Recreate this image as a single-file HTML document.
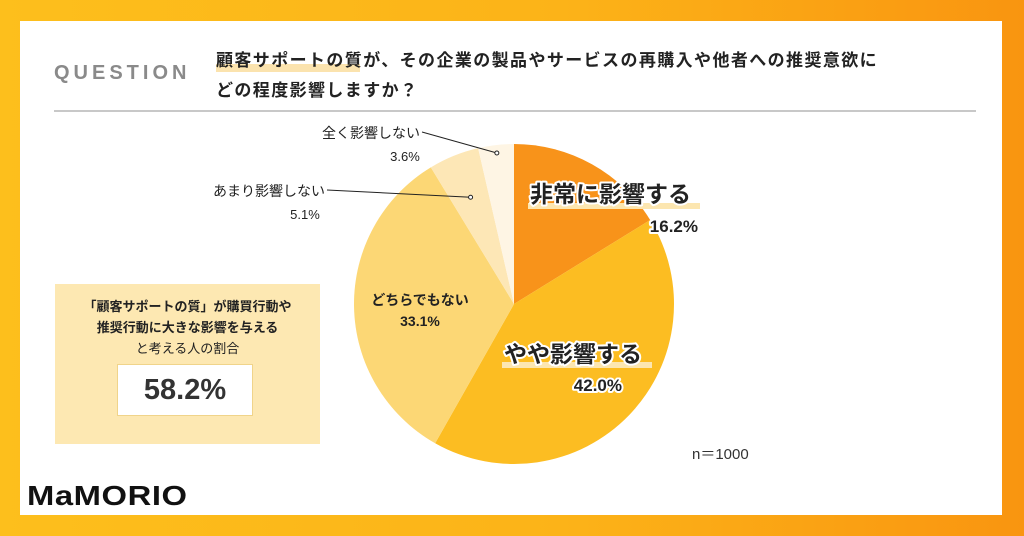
<!DOCTYPE html>
<html><head><meta charset="utf-8">
<style>
body{margin:0;width:1024px;height:536px;overflow:hidden;font-family:"Liberation Sans","Noto Sans CJK JP",sans-serif;}
#bg{position:absolute;left:0;top:0;width:1024px;height:536px;background:linear-gradient(90deg,#FDBF1C 0%,#FCB318 55%,#F99510 100%);}
#card{position:absolute;left:20px;top:21px;width:982px;height:494px;background:#fff;}
.abs{position:absolute;}
</style></head><body>
<div id="bg"></div>
<div id="card"></div>
<div class="abs" style="left:54px;top:62px;font-size:20px;letter-spacing:4px;color:#8a8a8a;font-weight:bold;">QUESTION</div>
<div class="abs" style="left:216px;top:64px;width:144px;height:8px;background:#FBE3AE;"></div>
<div class="abs" style="left:216px;top:46px;font-size:17px;line-height:30px;font-weight:bold;color:#222;letter-spacing:1.4px;">顧客サポートの質が、その企業の製品やサービスの再購入や他者への推奨意欲に<br>どの程度影響しますか？</div>
<div class="abs" style="left:54px;top:110px;width:922px;height:2px;background:#c8c8c8;"></div>
<div class="abs" style="left:55px;top:284px;width:265px;height:160px;background:#FDE8B2;"></div>
<div class="abs" style="left:55px;top:296px;width:265px;text-align:center;font-size:13px;line-height:21px;color:#222;"><b>「顧客サポートの質」が購買行動や<br>推奨行動に大きな影響を与える</b><br>と考える人の割合</div>
<div class="abs" style="left:117px;top:364px;width:136px;height:52px;background:#fff;border:1px solid #f0d48a;box-sizing:border-box;text-align:center;font-size:29px;line-height:50px;color:#333;font-weight:bold;">58.2%</div>
<div class="abs" style="left:27px;top:480px;font-size:28px;font-weight:900;color:#111;letter-spacing:0.5px;transform:scaleX(1.17);transform-origin:left top;">MaMORIO</div>
<div class="abs" style="left:692px;top:443px;font-size:15px;color:#333;">n＝1000</div>
<svg class="abs" style="left:0;top:0" width="1024" height="536">
<g id="pie"></g><g id="labels"></g>
</svg>
<script>
const categories=["非常に影響する","やや影響する","どちらでもない","あまり影響しない","全く影響しない"];
const values=[16.2,42.0,33.1,5.1,3.6];
const colors=["#F8931A","#FCBD22","#FCD775","#FDE7B6","#FEF5E4"];
const cx=514,cy=304,r=160;
const NS="http://www.w3.org/2000/svg";
const pie=document.getElementById('pie');
const total=values.reduce((a,b)=>a+b,0);
function pt(a,rr){return [cx+rr*Math.sin(a),cy-rr*Math.cos(a)];}
let acc=0;const mids=[];
values.forEach((v,i)=>{
 const a0=acc/total*2*Math.PI;acc+=v;const a1=acc/total*2*Math.PI;
 mids.push((a0+a1)/2);
 const p0=pt(a0,r),p1=pt(a1,r);
 const path=document.createElementNS(NS,'path');
 path.setAttribute('d',`M${cx},${cy}L${p0[0]},${p0[1]}A${r},${r} 0 ${a1-a0>Math.PI?1:0} 1 ${p1[0]},${p1[1]}Z`);
 path.setAttribute('fill',colors[i]);
 
 
 pie.appendChild(path);
});
const L=document.getElementById('labels');
function txt(x,y,s,size,weight,anchor,stroke,name){
 const t=document.createElementNS(NS,'text');
 t.setAttribute('x',x);t.setAttribute('y',y);t.setAttribute('font-size',size);
 t.setAttribute('font-weight',weight);t.setAttribute('text-anchor',anchor);t.setAttribute('fill','#222');
 if(stroke){t.setAttribute('stroke','#fff');t.setAttribute('stroke-width','4');t.setAttribute('paint-order','stroke');t.setAttribute('stroke-linejoin','round');}
 t.textContent=s;
 
 
 L.appendChild(t);
}
function hl(x,y,w,name){const rct=document.createElementNS(NS,'rect');rct.setAttribute('x',x);rct.setAttribute('y',y);rct.setAttribute('width',w);rct.setAttribute('height',6);rct.setAttribute('fill','#FCE6B0');
 
 
 L.appendChild(rct);}
hl(528,203,172,'highlight-0');
txt(530,202,categories[0],23,'bold','start',true,'label-0');
txt(698,232,values[0].toFixed(1)+'%',17,'bold','end',true,'value-0');
hl(502,362,150,'highlight-1');
txt(504,362,categories[1],23,'bold','start',true,'label-1');
txt(622,391,values[1].toFixed(1)+'%',17,'bold','end',true,'value-1');
txt(420,305,categories[2],14,'bold','middle',false,'label-2');
txt(420,326,values[2].toFixed(1)+'%',14,'bold','middle',false,'value-2');
txt(325,196,categories[3],14,'normal','end',false,'label-3');
txt(305,219,values[3].toFixed(1)+'%',13,'normal','middle',false,'value-3');
txt(420,138,categories[4],14,'normal','end',false,'label-4');
txt(405,161,values[4].toFixed(1)+'%',13,'normal','middle',false,'value-4');
function leader(x0,y0,i,k,name){const p=pt(mids[i],r*k);
 const l=document.createElementNS(NS,'polyline');l.setAttribute('points',`${x0},${y0} ${p[0]},${p[1]}`);l.setAttribute('stroke','#222');l.setAttribute('fill','none');l.setAttribute('stroke-width','1');
 
 
 L.appendChild(l);
 const c=document.createElementNS(NS,'circle');c.setAttribute('cx',p[0]);c.setAttribute('cy',p[1]);c.setAttribute('r',2);c.setAttribute('fill','#fff');c.setAttribute('stroke','#222');
 
 
 L.appendChild(c);}
leader(327,190,3,0.72,'leader-3');
leader(422,132,4,0.95,'leader-4');
</script>
</body></html>
